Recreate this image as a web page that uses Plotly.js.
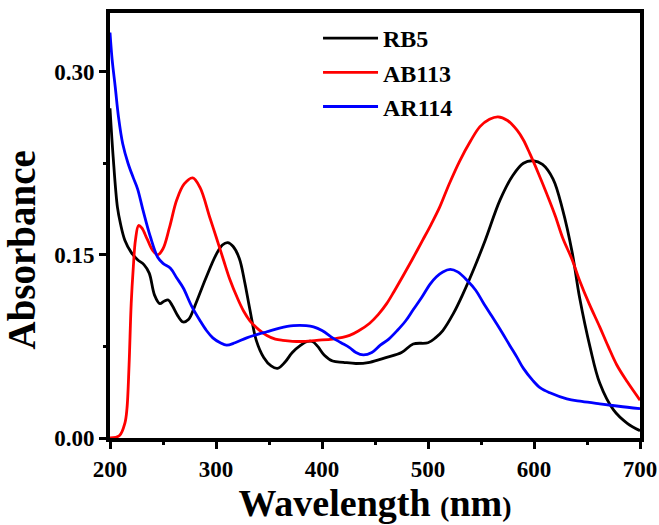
<!DOCTYPE html>
<html>
<head>
<meta charset="utf-8">
<script src="https://cdn.plot.ly/plotly-3.0.1.min.js"></script>
<style>html,body{margin:0;padding:0;background:#fff;}#chart{width:659px;height:525px;}</style>
</head>
<body>
<div id="chart"></div>
<script>
// RB5
const rb5_x = [200,203,207,210,214,220,226,232,237,242,247,251,255,259,264,269,274,280,290,300,306,311,316,322,327,332,338,345,352,358,365,372,380,386,391,396,402,410,420,432,445,461,475,486,500,507,514,524,533,544,554,568,580,590,599,608,618,627,636,643,653,662,675,688,700];
const rb5_y = [0.270,0.230,0.189,0.175,0.162,0.152,0.146,0.142,0.135,0.117,0.110,0.112,0.113,0.108,0.100,0.095,0.097,0.108,0.130,0.150,0.158,0.160,0.157,0.147,0.128,0.105,0.080,0.066,0.059,0.057,0.062,0.070,0.076,0.079,0.079,0.075,0.068,0.063,0.062,0.061,0.062,0.066,0.070,0.077,0.078,0.082,0.088,0.102,0.118,0.140,0.162,0.195,0.215,0.225,0.227,0.224,0.212,0.187,0.152,0.115,0.074,0.045,0.023,0.012,0.006];
// AB113
const ab113_x = [200,209,214,216,218,220,222,224,227,230,235,240,245,250,256,263,270,278,285,294,300,307,313,320,326,332,340,348,356,363,380,395,410,426,435,445,453,461,468,476,485,495,503,511,520,530,540,549,558,566,575,584,590,596,604,612,620,627,636,643,652,662,670,678,688,700];
const ab113_y = [0.000,0.002,0.012,0.024,0.060,0.110,0.140,0.162,0.174,0.172,0.163,0.154,0.150,0.155,0.172,0.195,0.208,0.213,0.205,0.181,0.165,0.146,0.130,0.115,0.104,0.096,0.089,0.084,0.081,0.080,0.079,0.080,0.081,0.084,0.088,0.094,0.101,0.110,0.120,0.132,0.146,0.162,0.175,0.189,0.208,0.227,0.243,0.255,0.261,0.263,0.260,0.252,0.244,0.233,0.217,0.200,0.182,0.164,0.146,0.129,0.110,0.091,0.075,0.060,0.046,0.031];
// AR114
const ar114_x = [200,202,205,208,212,217,222,226,231,238,245,250,257,263,269,277,285,291,297,304,310,318,329,340,348,360,373,385,392,400,410,418,426,432,439,447,455,463,471,479,486,494,502,508,514,521,528,537,545,552,560,568,577,584,590,599,606,615,631,645,662,680,700];
const ar114_y = [0.332,0.310,0.287,0.263,0.241,0.225,0.213,0.204,0.187,0.165,0.148,0.143,0.139,0.131,0.123,0.108,0.096,0.088,0.082,0.078,0.076,0.078,0.082,0.085,0.087,0.090,0.092,0.092,0.091,0.088,0.082,0.078,0.074,0.070,0.068,0.070,0.076,0.081,0.088,0.096,0.105,0.115,0.126,0.132,0.136,0.138,0.136,0.129,0.121,0.111,0.100,0.089,0.076,0.066,0.057,0.047,0.041,0.037,0.032,0.030,0.028,0.026,0.024];

const xTicks = [200,300,400,500,600,700];
const yTicks = [0.00,0.15,0.30];

const FONT = "'Liberation Serif', 'Times New Roman', serif";

function tr(x, y, name, color) {
  return {x: x, y: y, name: name, type: 'scatter', mode: 'lines',
          line: {color: color, width: 2.8, shape: 'spline', smoothing: 1.0}};
}

const data = [
  tr(rb5_x, rb5_y, 'RB5', '#000000'),
  tr(ab113_x, ab113_y, 'AB113', '#ff0000'),
  tr(ar114_x, ar114_y, 'AR114', '#0000ff')
];

const axisCommon = {
  showline: true, linecolor: '#000', linewidth: 4, mirror: true,
  ticks: 'outside', ticklen: 7, tickwidth: 3, tickcolor: '#000',
  showgrid: false, zeroline: false,
  tickfont: {family: FONT, size: 23, color: '#000', weight: 'bold'}
};

const layout = {
  width: 659, height: 525,
  margin: {l: 110, r: 19, t: 13, b: 87},
  paper_bgcolor: '#fff', plot_bgcolor: '#fff',
  font: {family: FONT, color: '#000'},
  showlegend: true,
  legend: {
    x: 0.3925, y: 0.993, xanchor: 'left', yanchor: 'top',
    bgcolor: 'rgba(0,0,0,0)', borderwidth: 0,
    font: {family: FONT, size: 24, color: '#000', weight: 'bold'},
    itemwidth: 55
  },
  xaxis: Object.assign({}, axisCommon, {
    range: [200, 700], tickvals: xTicks, ticktext: xTicks.map(String),
    minor: {dtick: 50, tick0: 200, ticks: 'outside', ticklen: 3, tickwidth: 3, tickcolor: '#000'},
    title: {text: "<b>Wavelength <span style='font-size:28px'>(</span>nm<span style='font-size:28px'>)</span></b>",
            font: {family: FONT, size: 38, color: '#000'}, standoff: 10}
  }),
  yaxis: Object.assign({}, axisCommon, {
    range: [0, 0.348], tickvals: yTicks, ticktext: yTicks.map(v => v.toFixed(2)),
    minor: {dtick: 0.075, tick0: 0, ticks: 'outside', ticklen: 3, tickwidth: 3, tickcolor: '#000'},
    title: {text: '<b>Absorbance</b>&nbsp;&nbsp;&nbsp;&nbsp;&nbsp;', font: {family: FONT, size: 39, color: '#000'}, standoff: 14}
  })
};

Plotly.newPlot('chart', data, layout, {displayModeBar: false, staticPlot: true});
</script>
</body>
</html>
